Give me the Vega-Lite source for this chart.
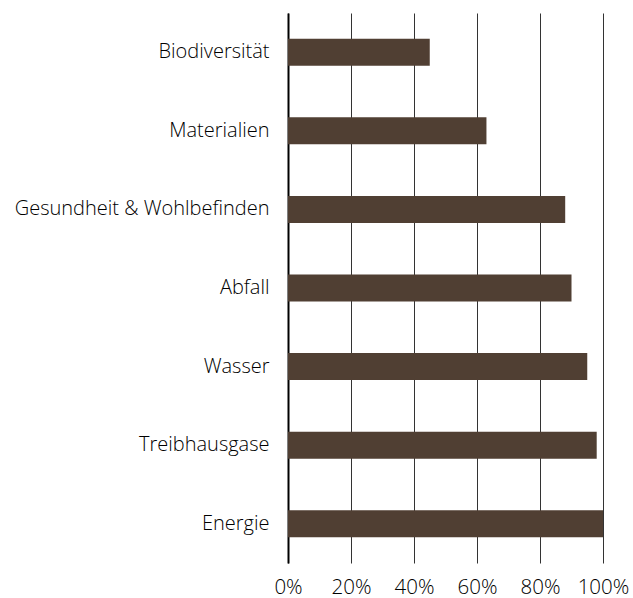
{
  "$schema": "https://vega.github.io/schema/vega-lite/v6.json",
  "width": 315,
  "height": 550,
  "autosize": "none",
  "padding": {"left": 288, "top": 13, "right": 30, "bottom": 35},
  "background": "white",
  "config": {"view": {"stroke": null}, "font": "Open Sans"},
  "data": {"values": [
    {"kategorie": "Biodiversität", "anteil": 0.45},
    {"kategorie": "Materialien", "anteil": 0.63},
    {"kategorie": "Gesundheit & Wohlbefinden", "anteil": 0.88},
    {"kategorie": "Abfall", "anteil": 0.90},
    {"kategorie": "Wasser", "anteil": 0.95},
    {"kategorie": "Treibhausgase", "anteil": 0.98},
    {"kategorie": "Energie", "anteil": 1.0}
  ]},
  "mark": {"type": "bar", "color": "#503f33", "size": 27},
  "encoding": {
    "y": {
      "field": "kategorie", "type": "nominal",
      "sort": ["Biodiversität", "Materialien", "Gesundheit & Wohlbefinden", "Abfall", "Wasser", "Treibhausgase", "Energie"],
      "title": null,
      "axis": {
        "ticks": false, "domain": true, "domainColor": "#000000", "domainWidth": 2,
        "labelFontSize": 20, "labelFont": "Open Sans", "labelFontWeight": 300, "labelColor": "#000000",
        "labelPadding": 19, "labelLimit": 400, "grid": false
      }
    },
    "x": {
      "field": "anteil", "type": "quantitative",
      "scale": {"domain": [0, 1], "nice": false},
      "title": null,
      "axis": {
        "format": ".0%", "values": [0, 0.2, 0.4, 0.6, 0.8, 1.0],
        "ticks": false, "domain": false, "grid": true, "gridColor": "#333333", "gridWidth": 1,
        "labelFontSize": 20.5, "labelFont": "Open Sans", "labelFontWeight": 300, "labelColor": "#000000",
        "labelPadding": 14, "labelFlush": false
      }
    }
  }
}
